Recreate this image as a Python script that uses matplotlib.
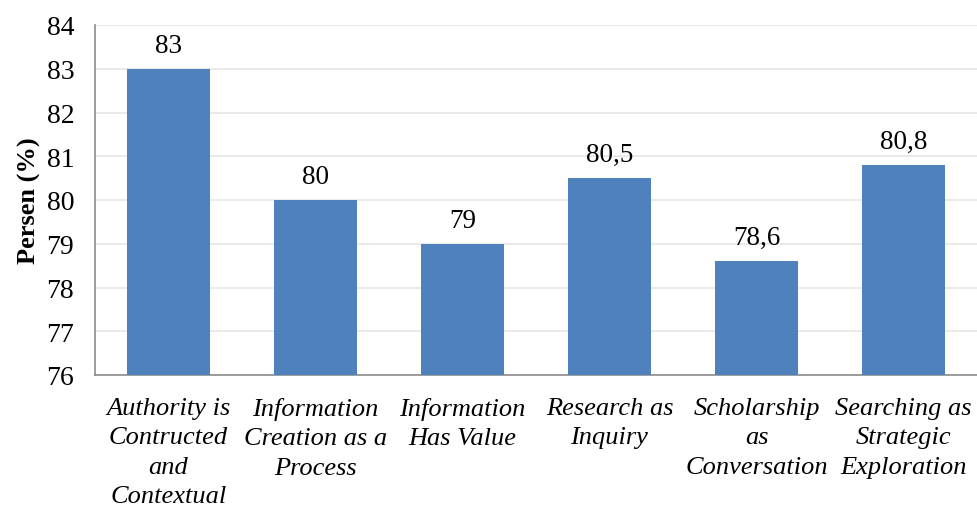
import matplotlib
matplotlib.use("Agg")
import matplotlib.pyplot as plt

categories = ["Authority is\nContructed\nand\nContextual",
              "Information\nCreation as a\nProcess",
              "Information\nHas Value",
              "Research as\nInquiry",
              "Scholarship\nas\nConversation",
              "Searching as\nStrategic\nExploration"]
values = [83, 80, 79, 80.5, 78.6, 80.8]
value_labels = ["83", "80", "79", "80,5", "78,6", "80,8"]
yticks = [76, 77, 78, 79, 80, 81, 82, 83, 84]

plt.rcParams['font.family'] = ['Liberation Serif', 'DejaVu Serif']

fig = plt.figure(figsize=(9.77, 5.10), dpi=100)
ax = fig.add_axes([95/977, 1 - 376/510, (977 - 95) / 977, 350/510])

x = list(range(len(categories)))
bars = ax.bar(x, values, width=0.57, color="#4F81BD", zorder=3)
for xi, v, lab in zip(x, values, value_labels):
    ax.text(xi, v + 0.25, lab, ha="center", va="bottom", fontsize=19.5, color="black")

ax.set_ylim(76, 84)
ax.set_xlim(-0.5, len(categories) - 0.5)
ax.set_yticks(yticks)
ax.set_yticklabels([str(t) for t in yticks], fontsize=20)
ax.set_xticks(x)
ax.set_xticklabels(categories, fontsize=19, style="italic", linespacing=1.42)
ax.tick_params(axis="both", length=0)
ax.tick_params(axis="y", pad=15)
ax.tick_params(axis="x", pad=16)
ax.yaxis.grid(True, color="#E6E6E6", linewidth=1.2, zorder=0)
for s in ["top", "right"]:
    ax.spines[s].set_visible(False)
for s in ["left", "bottom"]:
    ax.spines[s].set_color("#8C8C8C")
    ax.spines[s].set_linewidth(1.2)
ax.set_ylabel("Persen (%)", fontsize=19, fontweight="bold")
ax.yaxis.set_label_coords(-54/882, 0.5)

fig.savefig("out.png", dpi=100)
